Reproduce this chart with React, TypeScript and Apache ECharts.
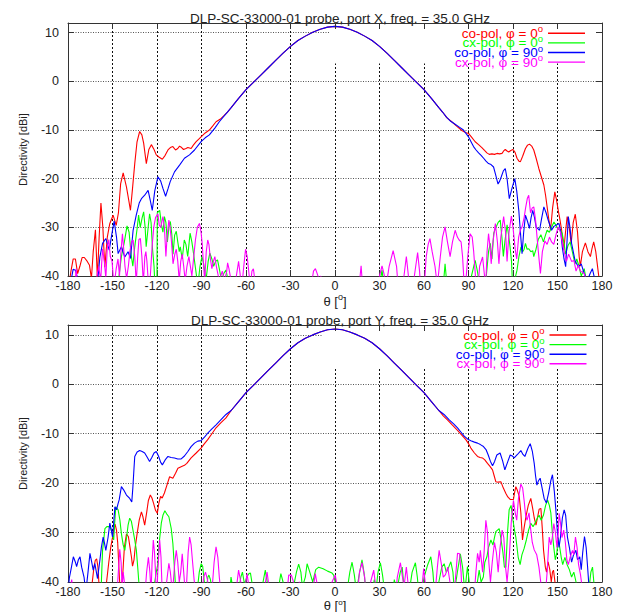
import React, { useEffect, useRef } from 'react';
import * as echarts from 'echarts';

type Pt = [number, number];

// ---------- texts ----------
const panelTitles = [
  'DLP-SC-33000-01 probe, port X, freq. = 35.0 GHz',
  'DLP-SC-33000-01 probe, port Y, freq. = 35.0 GHz',
];
const seriesNames = ['co-pol, φ = 0°', 'cx-pol, φ = 0°', 'co-pol, φ = 90°', 'cx-pol, φ = 90°'];
const seriesColors = ['#ff0000', '#00ff00', '#0000ff', '#ff00ff'];
const xAxisName = 'θ [°]';
const yAxisName = 'Directivity [dBi]';
const thetaMin = -180;
const thetaMax = 180;
const thetaStep = 30;
const dbMin = -40;
const dbMax = 12;
const dbStep = 10;

// ---------- data: port X (top) ----------
const mainLobeX: Pt[] = [[-70,-5.4],[-65,-3.5],[-60,-1.7],[-55,-0.2],[-50,1.3],[-45,2.8],[-40,4.3],[-35,5.8],[-30,7.2],[-25,8.4],[-20,9.3],[-15,10.1],[-10,10.7],[-5,11.15],[0,11.3],[5,11.15],[10,10.7],[15,10.1],[20,9.3],[25,8.4],[30,7.2],[35,5.8],[40,4.3],[45,2.8],[50,1.3],[55,-0.2],[60,-1.7],[65,-3.5],[70,-5.4]];

const coPol0XLeft: Pt[] = [[-180,-43],[-178,-39],[-176.5,-36.5],[-175,-36.5],[-173.5,-39.5],[-172,-38],[-170.5,-36.2],[-169,-36.2],[-167,-37],[-165.5,-37.8],[-164.2,-40.5],[-163,-35],[-161.5,-30.5],[-160.2,-40.5],[-159,-32],[-157.8,-25],[-156.5,-30],[-155.2,-38.2],[-153.5,-32],[-151.8,-29.2],[-149.6,-27.5],[-147.5,-29.6],[-146,-27],[-144.5,-21],[-142.8,-18.8],[-140.6,-21.7],[-139,-24.5],[-137.9,-26.5],[-136.5,-22],[-135,-16.9],[-133.5,-12.5],[-131.7,-10.3],[-130.2,-11],[-129,-12.7],[-127.2,-16.9],[-125.5,-14],[-123.8,-13],[-122,-14],[-120.5,-15.1],[-118.5,-15.6],[-116.4,-16],[-114.5,-15.2],[-112.6,-14.1],[-111,-13.6],[-109.3,-13.4],[-107.5,-14.1],[-106,-13.8],[-104.8,-13.3],[-103.4,-13.6],[-102.1,-14],[-100.5,-13.8],[-99.2,-13.6],[-97,-13.8],[-95.5,-13.1],[-93.6,-12.4],[-92,-11.9],[-90.3,-11.4],[-87.5,-10.6],[-84.7,-10],[-82.5,-9.2],[-80.2,-8.3],[-77.5,-7.8],[-75,-7.1],[-72.5,-6.3]];
const coPol0XRight: Pt[] = [[72.5,-6.3],[75.5,-7.5],[78.7,-8.3],[82,-9.2],[85.5,-10.1],[88,-10.5],[90,-10.7],[92.2,-11.5],[94.5,-12.4],[96.8,-13],[99,-13.6],[100.8,-14.2],[102.4,-14.7],[104,-15],[105.8,-14.9],[107.5,-15],[109.2,-14.8],[110.9,-14.9],[112.6,-14.8],[113.7,-14.3],[114.8,-14],[116,-14.3],[117.1,-14.5],[118.5,-14.2],[120,-14],[121.4,-14.6],[122.7,-15.8],[124,-16.4],[125,-16.5],[126.5,-15.4],[128.4,-13.8],[129.8,-13.1],[131.1,-12.9],[132.6,-13.3],[134,-14.1],[135.6,-15.8],[137.4,-17.9],[139,-19.5],[140.8,-21.3],[142,-23.5],[143,-25.8],[144.2,-28.5],[145.3,-30.6],[146.7,-26],[148.2,-22.7],[149.3,-24.3],[150.5,-26.5],[151.7,-28.5],[152.8,-30.6],[154.2,-34.7],[155.4,-31],[156.5,-27.8],[157.7,-29.5],[159.2,-33.3],[160.6,-29],[162,-27.3],[163.5,-31],[164.6,-36],[165.4,-38],[166.8,-35],[168.8,-33.2],[170.5,-35],[172.2,-36],[173.3,-34.3],[174.4,-33],[175.8,-35],[177.6,-39.5],[179,-43],[180,-45]];

const coPol90XLeft: Pt[] = [[-180,-45],[-178,-41],[-176.5,-38.6],[-175,-38.8],[-173.5,-40.5],[-172,-43],[-162,-45],[-160,-41],[-158.5,-36.1],[-156.7,-33.3],[-154.5,-32.3],[-152.2,-34.7],[-150.5,-31.5],[-148.9,-28.7],[-147.3,-32],[-146.2,-35.4],[-144,-34],[-141.7,-36.1],[-139.5,-35],[-137.9,-36.4],[-136.1,-30.6],[-134,-27.5],[-132,-25],[-130.5,-24.1],[-128.3,-23.4],[-126,-22.4],[-124.5,-24.5],[-123.2,-26.5],[-121.5,-22.5],[-119.4,-19.6],[-117.5,-20.5],[-116,-22],[-114.2,-23.6],[-112.5,-22],[-111.1,-20.6],[-108.2,-18.6],[-104.8,-17.2],[-101.5,-15.8],[-98.1,-15.1],[-94.7,-14.1],[-90.3,-12.4],[-87.5,-11.6],[-84.7,-11],[-81,-9.6],[-78,-8.3],[-75,-7.2],[-72.5,-6.3]];
const coPol90XRight: Pt[] = [[72.5,-6.3],[75,-7.3],[78,-8.2],[81,-8.8],[83.8,-9.4],[86.6,-10],[88.3,-10.7],[90,-11.4],[91.7,-12.4],[93.4,-13.4],[95.1,-14.1],[96.8,-14.7],[98.5,-15.2],[100.2,-15.8],[101.8,-16.4],[103.5,-16.9],[105.2,-17.1],[106.9,-17.6],[108.4,-19.3],[109.9,-21.1],[111,-20.5],[112.1,-19.6],[113.5,-18.4],[114.8,-17.9],[116,-20],[117.5,-24.1],[119.3,-22],[121.2,-20],[122.5,-22.5],[123.9,-26.5],[125,-31],[126.1,-35.4],[127.2,-31],[128.4,-27.5],[129.8,-28.8],[131.1,-30.2],[132.2,-28],[133.3,-26.5],[134.5,-28],[135.6,-29.9],[137.9,-30.6],[139.4,-28],[140.8,-25.8],[142.3,-27],[143.7,-28.5],[146,-30.6],[147.5,-29.8],[148.7,-29.6],[151,-29.2],[152.2,-31],[153.2,-34],[154.4,-36.5],[155.5,-38.1],[156.4,-33],[157.3,-27.8],[158.4,-30],[159.5,-33.3],[161.8,-36.8],[164,-38.1],[166,-37.5],[168,-39.5],[170,-41],[172,-39.5],[173.5,-38.5],[175,-40.5],[177,-44]];

const cxPol0X: Pt[] = [[-180,-48],[-150,-48],[-146,-41],[-144,-36],[-142,-33],[-140.2,-29.7],[-138.8,-31],[-137.5,-35.5],[-136.3,-38],[-135,-34],[-133.5,-30.5],[-132.4,-27.5],[-131.3,-30],[-130,-28],[-129,-26.8],[-128,-30],[-127.3,-34],[-126.3,-31],[-125,-27.2],[-124,-29],[-123,-34.5],[-122,-38],[-121,-45],[-120.1,-45],[-119.8,-27],[-118.2,-26.5],[-117,-29.5],[-116,-31],[-115,-27.8],[-114,-29],[-113,-33],[-112,-30],[-111,-28.8],[-110,-31.5],[-109.2,-35.5],[-108.1,-31.6],[-107,-30.8],[-106,-33],[-105,-35],[-104.3,-34],[-103,-36.5],[-101.6,-32.6],[-100.5,-33.5],[-99.3,-36],[-97.7,-31.2],[-96.5,-33],[-95.4,-35.3],[-94,-38.5],[-92.5,-42],[-91,-38],[-89.7,-36],[-88.5,-37.5],[-87,-41],[-85.5,-37],[-84.4,-35.3],[-83,-36.5],[-81.8,-38],[-80.5,-37],[-79.2,-36.7],[-78,-38.5],[-76.5,-41],[-75,-39.5],[-73.5,-38.8],[-72,-41],[-70,-46],[-60,-48],[25,-48],[30,-42],[31.7,-38.8],[33,-42],[36,-48],[70,-48],[73,-42],[74.2,-37.5],[75.5,-42],[78,-48],[90,-46],[92,-40],[94.5,-36.8],[96,-39],[97.5,-42],[100,-45],[102,-40],[103.5,-35],[104.7,-33.3],[105.8,-36.5],[107,-31.2],[108.5,-30],[110,-29],[111.4,-28.5],[112.5,-32],[113.5,-36],[114.5,-33],[116,-29.5],[117,-31.5],[118,-34],[119,-37],[120,-44],[121,-41],[122.7,-38.8],[124,-36],[125.4,-34],[126.5,-35],[127.5,-34.5],[128.4,-33.3],[129.5,-34.5],[130.6,-34.4],[132,-35],[133.3,-34.8],[134,-36],[135.5,-34.5],[137,-32.5],[138.8,-31.5],[140.5,-33],[142,-31.5],[143,-30.6],[144.5,-31],[146,-30],[147.6,-28.9],[149,-29.6],[150.5,-30.4],[152,-30.5],[153.2,-31.3],[154.5,-33.5],[155.5,-35.5],[157,-33.8],[158.5,-33],[160,-35],[161.8,-37.5],[163,-36.5],[164.5,-38],[166,-40],[168,-38.5],[169.5,-41],[171,-46],[180,-48]];

const cxPol90X: Pt[] = [[-180,-48],[-176,-45],[-174.5,-38.5],[-173,-45],[-162,-46],[-160.5,-40],[-159.3,-38],[-158,-41],[-156.7,-34.4],[-155.5,-37],[-154.5,-40.5],[-153.5,-34],[-152.5,-32.5],[-151.5,-36],[-150.3,-37],[-149,-42],[-147.5,-38.5],[-146.3,-36.5],[-145.3,-40],[-144.3,-35],[-143.3,-31.3],[-142.3,-35],[-141.6,-38],[-140.5,-40.5],[-139.3,-38],[-138.3,-35],[-137.2,-33],[-136.1,-32.6],[-135,-36],[-134,-41.5],[-133,-36],[-132.2,-32.5],[-131.2,-32.3],[-130.2,-36],[-129.2,-41.5],[-128.2,-36],[-127.5,-35],[-126.8,-37],[-125.8,-41.5],[-124.5,-40],[-123.3,-34],[-122.2,-30],[-121,-28],[-119.4,-27.2],[-118.5,-29.5],[-117.5,-30],[-116,-27.8],[-115,-30],[-114,-36],[-113.2,-32],[-112,-28.5],[-111.2,-30],[-110.2,-33],[-109.2,-37.5],[-108,-35.5],[-107,-34.5],[-106,-37],[-105,-41],[-104,-37],[-103,-35.5],[-102,-38],[-101,-41],[-99.8,-38],[-98.5,-36],[-97.5,-38],[-96.5,-40],[-95.2,-36],[-94.1,-32.6],[-92.8,-30],[-91.4,-29.2],[-90.3,-31],[-89.5,-33.5],[-88.6,-38],[-87.8,-41],[-86.8,-35],[-85.8,-32.6],[-85,-33.5],[-84,-36.5],[-83,-38.5],[-82,-37],[-81,-36],[-80,-38],[-79,-39.5],[-78,-41],[-77,-40],[-76,-39],[-74.5,-41],[-73,-39],[-72.4,-37.3],[-71.5,-38.5],[-70,-41],[-68.5,-40.5],[-67.5,-42],[-66,-39],[-65,-37],[-64,-39.5],[-63,-43],[-61.5,-38],[-60.3,-34.5],[-59.2,-36],[-58,-39.5],[-57,-42],[-56,-39],[-55,-38.5],[-54,-41],[-53,-46],[-20,-48],[-16,-42],[-14.5,-39],[-13.2,-38.5],[-12,-39.5],[-10.5,-41],[-9.5,-40],[-8.5,-41.5],[-6,-47],[3,-46],[4.5,-40.5],[6,-46],[15,-46],[17.6,-37.9],[19.5,-46],[28,-46],[30,-40],[31.7,-37.9],[33,-39.5],[34.5,-42],[36.5,-38],[39.2,-34.8],[41.5,-38],[43.5,-46],[46.5,-40],[48.1,-36],[49.5,-40],[51,-46],[53.5,-40],[55.7,-35.2],[57,-39],[58.5,-46],[60,-43],[61.5,-36],[62.8,-33.5],[64,-32.3],[65.5,-35],[67.4,-38],[69,-42],[71,-36],[72.5,-32],[74.2,-29.9],[75.8,-33],[77.6,-36],[79.2,-33],[81,-30.6],[82.5,-32],[83.7,-32.6],[85,-33],[86,-36],[87.5,-44],[89.5,-36],[91.1,-31.3],[92.5,-32],[93.5,-35],[94.8,-40.5],[96,-44],[97.5,-38],[99.5,-36.1],[100.8,-40],[101.5,-43],[102.5,-35],[103.5,-31.3],[104.5,-34],[105.3,-37.5],[106.5,-33],[108.1,-29.2],[109.5,-33],[110.5,-37.5],[111.8,-32],[113.7,-27.8],[115,-31],[116,-37],[117.3,-31],[118.9,-27.7],[120,-30],[121.5,-34.5],[122.5,-36.5],[123.8,-32],[125,-30.5],[126.1,-29.9],[127.5,-28],[128.5,-26],[129.7,-24],[130.6,-23.4],[131.8,-27],[133,-26],[134,-25.8],[135.2,-28.5],[136.5,-33],[137.7,-37],[138.5,-39.5],[139.8,-35],[141.5,-32.8],[143,-33.5],[144.6,-32],[146,-33],[147.5,-33.5],[149,-31.5],[150.5,-29.9],[152,-31],[153.2,-33],[154.5,-35],[156,-37],[157.5,-35.5],[159.5,-37],[161.1,-36.8],[162.5,-39],[164,-37.8],[165.5,-39],[168,-39.5],[170.5,-42],[173,-46],[180,-48]];

// ---------- data: port Y (bottom) ----------
const mainLobeY: Pt[] = [[-70,-5.3],[-65,-3.5],[-60,-1.7],[-55,-0.2],[-50,1.3],[-45,2.8],[-40,4.3],[-35,5.8],[-30,7.2],[-25,8.4],[-20,9.3],[-15,10.0],[-10,10.6],[-5,11.05],[0,11.2],[5,11.05],[10,10.6],[15,10.0],[20,9.3],[25,8.4],[30,7.2],[35,5.8],[40,4.3],[45,2.8],[50,1.3],[55,-0.2],[60,-1.7],[65,-3.5],[70,-5.3]];

const coPol0YLeft: Pt[] = [[-180,-48],[-166,-46],[-164,-41],[-162.5,-37],[-161.6,-35.6],[-160.7,-35.3],[-159.8,-37],[-159,-41],[-158,-45],[-156,-44],[-154,-40],[-152.5,-36],[-151.2,-33],[-150,-31],[-149.2,-29.5],[-148.3,-28.3],[-147.3,-29.5],[-146.5,-32],[-145.7,-37],[-145,-41],[-144.2,-42],[-143,-38],[-142,-33],[-140.6,-30.3],[-139.3,-30.8],[-138.2,-33],[-137.2,-35],[-136.5,-36.8],[-135.5,-35.5],[-134.7,-33],[-133.4,-30.2],[-132,-27.5],[-130.5,-25.8],[-129.5,-26.8],[-128.3,-28.5],[-127,-26],[-125.8,-23.5],[-124.5,-22.4],[-123.4,-23],[-122.3,-24.1],[-121,-25.5],[-119.8,-26.1],[-118.7,-24],[-117.6,-22.7],[-116.5,-23],[-115,-22],[-113.3,-20.4],[-111.5,-18.7],[-109.3,-19],[-107.5,-18],[-105.9,-17],[-103,-16.6],[-101.5,-16.4],[-99.9,-16],[-97,-14.9],[-93.6,-13.9],[-90.3,-12.9],[-88,-12],[-85.8,-11.2],[-83,-10],[-80.2,-8.8],[-77,-7.8],[-73.5,-6.8]];
const coPol0YRight: Pt[] = [[73,-6.4],[75.8,-7.2],[79,-8.2],[82.6,-9.3],[85.5,-10.3],[88.2,-11.2],[90,-12],[91.6,-12.9],[94,-13.9],[96.1,-14.6],[97.8,-14.8],[99.4,-14.9],[101,-15.3],[102.8,-16],[104.5,-16.6],[106.2,-17.3],[107.3,-18.5],[108.4,-19.7],[110,-19.8],[111.8,-19.7],[113.5,-21],[115.2,-22.1],[116.5,-22.8],[118.1,-23.3],[120.3,-23.3],[121,-22],[121.9,-20.7],[123,-21.5],[124.2,-22.7],[125.3,-26],[126.4,-31.5],[127.5,-29],[128.7,-26.8],[130.3,-24.5],[132,-23.1],[133.2,-25],[134.3,-27],[135.5,-28.5],[136.5,-27],[137.6,-25.3],[138.8,-25.1],[139.7,-29],[140.6,-33.6],[141.8,-37],[142.6,-38],[143.7,-35.9],[144.8,-37.5],[145.8,-40],[146.6,-38],[147.3,-37.6],[148.3,-40],[149.5,-44],[151,-48],[180,-48]];

const coPol90YLeft: Pt[] = [[-180,-42],[-179,-39],[-178,-37.5],[-176.4,-34.9],[-175,-36],[-174.2,-36.9],[-173,-35.5],[-171.9,-34.9],[-170.8,-37],[-169.2,-39],[-168,-42],[-166.5,-38],[-165.2,-34.2],[-164,-36],[-163,-37.6],[-161.9,-36.3],[-160.1,-39.3],[-158.5,-35.6],[-157.5,-33],[-156.3,-30.9],[-155.5,-32],[-154.5,-33.6],[-153,-31],[-151.8,-28.1],[-150.8,-29.5],[-150,-30.9],[-149.2,-28],[-148.4,-24.8],[-147.3,-25.4],[-146.3,-24.2],[-145.5,-23.4],[-144,-20.7],[-142.4,-21.4],[-140.6,-22.4],[-138.4,-23.1],[-137,-23.8],[-136.3,-21],[-135.5,-17],[-135,-14.6],[-133.4,-13.7],[-131.7,-13.4],[-130,-13.6],[-128.3,-13.9],[-126.5,-14.8],[-125,-15.6],[-123.5,-14.8],[-122,-13.9],[-120.5,-13.6],[-119,-14.5],[-117.5,-15.8],[-116.4,-16.3],[-114.5,-15.3],[-112.6,-14.6],[-110.5,-14.8],[-108.2,-14.9],[-106,-15.1],[-103.7,-15.1],[-101.5,-14.5],[-99.2,-13.6],[-97,-12.6],[-94.7,-11.9],[-92.5,-11.5],[-90.3,-11.4],[-88,-10.7],[-85.8,-9.9],[-83,-9],[-80.2,-8.2],[-77,-7.2],[-73.5,-6.1]];
const coPol90YRight: Pt[] = [[73.5,-6.1],[77,-7.2],[80,-8],[82.6,-8.8],[85,-9.7],[87.1,-10.5],[89.5,-11.1],[91.6,-11.4],[94,-11.7],[96.1,-11.9],[98,-12.2],[100.1,-12.6],[101.8,-13.2],[103.3,-14.3],[104.8,-15.6],[106.2,-16.5],[107.6,-15.6],[109.1,-14.3],[111.3,-13.9],[113,-15.5],[114.5,-17.3],[116.3,-15.8],[118.1,-14.3],[119.5,-14.5],[120.8,-14.9],[123,-14.2],[125.3,-13.4],[126.7,-14.2],[128,-14.6],[130,-13],[131.6,-12],[133,-13.5],[134.3,-16],[135.2,-18.5],[136.1,-20.4],[137.2,-19.5],[138.3,-19],[139.5,-20.8],[141,-23.1],[142.5,-24],[144,-22],[145.5,-19.5],[146.6,-18.3],[147.8,-21.5],[148.9,-25.4],[150,-30.2],[151,-33],[152,-31],[153.3,-27],[154.5,-25.4],[155.5,-26.5],[156.7,-30.9],[158,-33],[159.5,-36],[160.8,-34.5],[162.4,-33.6],[163.5,-35.5],[165,-34.9],[166,-37.5],[167,-34],[168.2,-30.8],[169.3,-33],[170.3,-37],[171,-40],[172,-44]];

const cxPol0Y: Pt[] = [[-180,-48],[-160,-48],[-158.5,-44],[-157.5,-40],[-156.7,-33.6],[-155.1,-29.2],[-153.8,-28.8],[-152.9,-28.8],[-151.5,-28.9],[-150.3,-30],[-149.2,-31.5],[-148.5,-28],[-147.8,-24.8],[-146.2,-25.4],[-145,-27.5],[-144,-30.2],[-142.8,-32.5],[-141.7,-33.6],[-140.5,-31],[-139.5,-28.5],[-138.4,-27.1],[-137.3,-27.7],[-136.2,-29.5],[-135,-31.5],[-133.9,-33.6],[-133,-37],[-132,-41],[-131,-46],[-128,-44],[-126,-42],[-124,-43],[-122,-41],[-120.5,-38],[-119.5,-36.5],[-118.5,-32],[-117.1,-28.1],[-116,-26.5],[-114.7,-25.6],[-113.5,-26.2],[-112,-26.8],[-110.4,-29.2],[-109.3,-32.2],[-108.5,-36],[-107.5,-41],[-106,-46],[-96,-46],[-93,-42],[-91.5,-38],[-90.2,-36.3],[-89.2,-36.8],[-88.3,-39.5],[-87,-42],[-85.7,-39],[-85,-38.6],[-84,-39.5],[-82.5,-42],[-80,-46],[-72,-46],[-70.1,-39],[-69,-41],[-66,-44],[-63.5,-39],[-62.4,-38],[-61,-40.5],[-59.5,-39],[-58,-38.3],[-57,-38.2],[-55.5,-41],[-54,-46],[-50,-46],[-48.5,-40],[-47,-37.6],[-46,-39.5],[-44,-43],[-40,-46],[-38,-41],[-36.5,-38.3],[-35,-40],[-33,-45],[-30,-44],[-28,-41],[-26,-38],[-24.5,-36.4],[-23,-38],[-22,-41],[-20,-39],[-18.8,-36.3],[-17,-38],[-15,-40],[-13,-37.5],[-11,-37],[-8,-37.3],[-5,-37.8],[-2,-38.2],[-0.9,-38.6],[0.5,-40.5],[2,-45],[5,-46],[8,-42],[10,-38],[11.5,-36],[13,-38.5],[14.5,-42],[16,-39],[18.2,-35.5],[19.5,-38],[21,-42],[23,-45],[25,-42],[26.5,-39.5],[27.5,-42],[29,-38],[30.6,-36.1],[32,-38.5],[33.5,-42],[35,-46],[38,-44],[40,-39.5],[41.5,-42],[44,-38],[45.3,-37],[46.5,-41],[48,-44],[50,-42],[52,-38],[54.2,-36.1],[55.5,-39],[57,-44],[60.1,-39],[62.5,-36.5],[64.6,-34.9],[66,-38],[67.5,-44],[70,-40],[72,-37],[73.6,-36.3],[75,-38],[76,-37.5],[78.1,-35.9],[79.5,-38],[80.5,-42],[82.5,-38],[84.5,-34.3],[86,-37],[87.5,-42],[89.3,-36.9],[90.5,-40],[92,-45],[95,-42],[97.2,-37.6],[98.5,-40],[100,-39],[101,-36],[102.4,-34.9],[103.5,-33],[105.1,-31.5],[106.5,-32.5],[107.5,-31],[108.4,-29.8],[110.7,-29.2],[112,-31.5],[113.2,-34],[114.2,-37],[115.2,-37],[116.3,-30],[117.4,-25.4],[118.7,-24.5],[120,-27.5],[121,-29.5],[121.9,-30.9],[123.5,-35],[124.8,-36.5],[126,-34.5],[127.5,-33.2],[129,-31.5],[130.5,-29.5],[132,-28.1],[133.5,-28.8],[135,-28],[136.5,-27],[137.6,-26.5],[139,-27.5],[140.5,-26.5],[142,-24.5],[143.3,-23.4],[144.5,-24.5],[145.5,-26],[146.5,-30],[147.5,-33],[148.5,-35.5],[149.6,-34],[150.5,-31],[151.5,-33],[152.5,-35],[153.5,-36.5],[155,-35],[156.5,-36.5],[158,-37.5],[159.5,-39],[161,-38],[162.5,-40],[164,-44],[167,-46],[171,-42],[172.5,-38],[173.6,-37],[174.5,-40],[176,-46],[180,-48]];

const cxPol90Y: Pt[] = [[-180,-48],[-179,-42],[-177.5,-39.5],[-176,-44],[-150,-47],[-148,-46],[-146.5,-40],[-145.1,-33.4],[-144.2,-36],[-143.5,-41],[-142.8,-38],[-142,-40],[-141,-47],[-130,-47],[-128,-42],[-127,-38],[-125.8,-35],[-124.8,-38],[-124,-42],[-123.3,-36],[-122.5,-31.5],[-121.7,-34],[-121,-38],[-120.3,-45],[-119.5,-38],[-118.2,-31.5],[-117.3,-35],[-116.5,-42],[-115.5,-46],[-113.5,-40],[-112,-36.2],[-111,-38],[-110,-41],[-109,-40],[-108,-36],[-107,-33.6],[-106,-36],[-105,-40],[-104,-38],[-103,-34.3],[-102,-38],[-101,-42],[-100,-40],[-99,-34],[-98,-30.9],[-97,-32.5],[-96,-36],[-95,-39.5],[-94,-42],[-92,-45],[-90,-43],[-88.5,-39],[-87.3,-38],[-86,-39.5],[-85,-42],[-83,-42],[-81.5,-36],[-80.2,-32.9],[-79,-35],[-78,-39],[-77,-42],[-75,-46],[-68,-46],[-66,-40],[-65,-37.6],[-63.5,-40],[-62,-46],[-61,-42],[-59.3,-38.3],[-58,-41],[-56,-46],[-48,-42],[-45.8,-38],[-44.5,-41],[-43,-46],[-33,-44],[-31.2,-38.6],[-29.4,-38.6],[-28,-40],[-26,-41.5],[-24,-40],[-22,-42],[-19,-46],[-15,-42],[-13.3,-38.3],[-12,-40.5],[-10.5,-46],[-4,-44],[-2,-40],[0.2,-38.6],[1.5,-41],[3,-46],[14,-46],[16.5,-38],[18.2,-36.1],[20,-39],[21.5,-46],[24,-40],[26.1,-37.6],[27.5,-41],[29,-46],[40,-46],[42,-39],[44.1,-36.1],[45.5,-39],[46.5,-41],[48.1,-37],[49.5,-41],[51,-46],[57,-46],[59.8,-37.3],[61.5,-42],[63,-46],[67,-44],[69,-37],[70.2,-33.6],[71.5,-36],[73,-39],[74.5,-38.5],[76,-37],[77.5,-40],[78.5,-46],[81,-40],[82.6,-34.2],[84,-34.3],[85,-38],[86,-46],[93,-46],[95,-38],[96.1,-34.2],[97.2,-36],[98,-33.6],[99.5,-38],[100.5,-34],[101.7,-27.5],[102.8,-30],[103.7,-36],[104.8,-40],[106,-36],[107.5,-32],[108.8,-34],[110,-38],[111.3,-33],[112.7,-29.5],[113.8,-31],[115,-37],[116,-40],[117.5,-35],[118.8,-28],[120.3,-23.5],[121.5,-26],[122.5,-27.5],[123.7,-23],[125.3,-20.2],[126.5,-21],[127.5,-23.5],[128.5,-26.5],[129.5,-27.5],[130.8,-26],[131.8,-29],[133,-32],[134.3,-33.5],[136,-34.5],[137.5,-37],[138.5,-39.5],[139.5,-42],[141,-46],[143,-38],[144.4,-30.9],[145.5,-32.5],[146.5,-31],[147.5,-28.2],[148.6,-30],[149.6,-33],[150.5,-30],[151.1,-26.1],[152,-28],[153,-31],[154.2,-29.5],[155.3,-32],[156.3,-35.5],[157.3,-36.5],[158.5,-35],[160.1,-33.6],[161,-34.5],[162.1,-30.9],[163.2,-33],[164.2,-36.5],[165.5,-38.5],[167,-42],[169,-46],[180,-48]];

const panelSeries: Pt[][][] = [
  [[...coPol0XLeft, ...mainLobeX, ...coPol0XRight], cxPol0X, [...coPol90XLeft, ...mainLobeX, ...coPol90XRight], cxPol90X],
  [[...coPol0YLeft, ...mainLobeY, ...coPol0YRight], cxPol0Y, [...coPol90YLeft, ...mainLobeY, ...coPol90YRight], cxPol90Y],
];

// ---------- layout / style ----------
const FONT = '"Liberation Sans", Arial, Helvetica, sans-serif';
const layouts = [
  { grid: { left: 68, right: 21, top: 23, height: 253 }, titleTop: 6, legendRight: 38, legendRow0: 33.3, nameGap: 14, nameLH: 18, nameSup: 9, mask: { x: 330, y: 24, width: 271.5, height: 39.5 } },
  { grid: { left: 68, right: 21, top: 325, height: 257 }, titleTop: 308, legendRight: 36.5, legendRow0: 335, nameGap: 16, nameLH: 14, nameSup: 8, mask: { x: 322, y: 326, width: 279.5, height: 41 } },
];
const LEGEND_ROW = 9.6;
const LEGEND_LH = 19;
const supRich = (color: string, fs: number) => ({ s: { fontSize: fs, verticalAlign: 'top', color, fontFamily: FONT } });

function buildOption() {
  const title: any[] = [];
  const grid: any[] = [];
  const xAxis: any[] = [];
  const yAxis: any[] = [];
  const series: any[] = [];
  const legend: any[] = [];
  const graphic: any[] = [];

  layouts.forEach((L, p) => {
    title.push({
      text: panelTitles[p], left: 335, top: L.titleTop, textAlign: 'center',
      textStyle: { fontFamily: FONT, fontSize: 13.5, fontWeight: 'normal', color: '#222' },
    });
    grid.push({ ...L.grid, containLabel: false, outerBoundsMode: 'none' });
    xAxis.push({
      type: 'value', gridIndex: p, position: 'bottom', min: thetaMin, max: thetaMax, interval: thetaStep,
      name: xAxisName.replace('°', '{s|o}'), nameLocation: 'middle', nameGap: L.nameGap,
      nameTextStyle: { fontFamily: FONT, fontSize: 13, color: '#222', lineHeight: L.nameLH, rich: supRich('#222', L.nameSup) },
      axisLine: { show: true, onZero: false, lineStyle: { color: '#333', width: 1 } },
      axisTick: { show: true, inside: true, length: 6, lineStyle: { color: '#333' } },
      axisLabel: { margin: 3, fontFamily: FONT, fontSize: 12.5, color: '#222' },
      splitLine: { show: true, lineStyle: { color: '#111', type: [2, 2], width: 1 } },
      z: 0,
    });
    xAxis.push({
      type: 'value', gridIndex: p, position: 'top', min: thetaMin, max: thetaMax, interval: thetaStep,
      axisLine: { show: true, onZero: false, lineStyle: { color: '#333', width: 1 } },
      axisTick: { show: true, inside: true, length: 6, lineStyle: { color: '#333' } },
      axisLabel: { show: false }, splitLine: { show: false }, z: 3,
    });
    yAxis.push({
      type: 'value', gridIndex: p, position: 'left', min: dbMin, max: dbMax, interval: dbStep,
      name: yAxisName, nameLocation: 'middle', nameGap: 40, nameRotate: 90,
      nameTextStyle: { fontFamily: FONT, fontSize: 11, color: '#222' },
      axisLine: { show: true, onZero: false, lineStyle: { color: '#333', width: 1 } },
      axisTick: { show: true, inside: true, length: 6, lineStyle: { color: '#333' } },
      axisLabel: { margin: 9, fontFamily: FONT, fontSize: 12.5, color: '#222', showMaxLabel: false },
      splitLine: { show: true, lineStyle: { color: '#555', type: [1, 1.5], width: 1 } },
      z: 0,
    });
    yAxis.push({
      type: 'value', gridIndex: p, position: 'right', min: dbMin, max: dbMax, interval: dbStep,
      axisLine: { show: true, onZero: false, lineStyle: { color: '#333', width: 1 } },
      axisTick: { show: true, inside: true, length: 6, lineStyle: { color: '#333' } },
      axisLabel: { show: false }, splitLine: { show: false }, z: 3,
    });
    panelSeries[p].forEach((data, k) => {
      series.push({
        type: 'line', name: seriesNames[k], xAxisIndex: 2 * p, yAxisIndex: 2 * p, data,
        showSymbol: false, symbol: 'none', smooth: false, clip: true, silent: true,
        lineStyle: { color: seriesColors[k], width: 1.1 }, itemStyle: { color: seriesColors[k] },
        z: 2,
      });
    });
    seriesNames.forEach((nm, k) => {
      legend.push({
        data: [{ name: nm, icon: 'rect' }], orient: 'horizontal', align: 'right', right: L.legendRight,
        top: L.legendRow0 + k * LEGEND_ROW - LEGEND_LH / 2, padding: 0, itemWidth: 37, itemHeight: 1.4,
        selectedMode: false,
        itemStyle: { color: seriesColors[k], borderWidth: 0 },
        formatter: (name: string) => name.replace('°', '{s|o}'),
        textStyle: { fontFamily: FONT, fontSize: 13.5, color: seriesColors[k], lineHeight: LEGEND_LH, rich: supRich(seriesColors[k], 9.5) },
        z: 4,
      });
    });
    graphic.push({
      type: 'rect', silent: true, z: 1,
      shape: { x: L.mask.x, y: L.mask.y, width: L.mask.width, height: L.mask.height },
      style: { fill: '#ffffff' },
    });
  });

  return {
    animation: false,
    backgroundColor: '#ffffff',
    textStyle: { fontFamily: FONT },
    title, grid, xAxis, yAxis, series, legend, graphic,
  };
}

export default function App() {
  const ref = useRef<HTMLDivElement>(null);
  useEffect(() => {
    if (!ref.current) return;
    const chart = echarts.init(ref.current, null, { renderer: 'svg' });
    chart.setOption(buildOption() as any);
    return () => chart.dispose();
  }, []);
  return (
    <div
      ref={ref}
      style={{ position: 'fixed', left: 0, top: 0, width: 623, height: 612, background: '#fff' }}
    />
  );
}
